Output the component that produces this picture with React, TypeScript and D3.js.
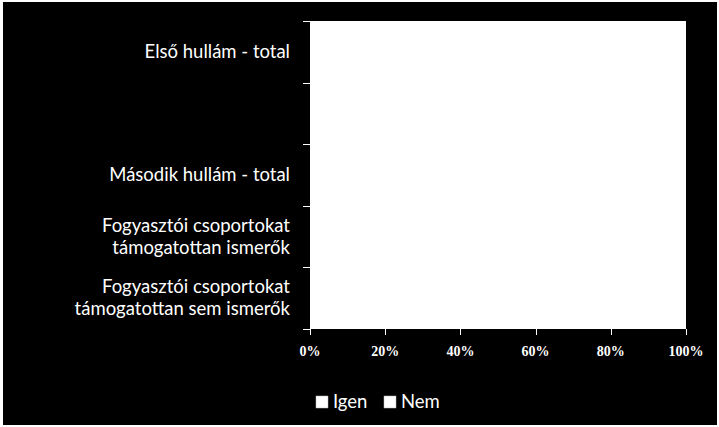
import { useEffect, useRef } from 'react';
import * as d3 from 'd3';

const categories = [
  ['Első hullám - total'],
  [''],
  ['Második hullám - total'],
  ['Fogyasztói csoportokat', 'támogatottan ismerők'],
  ['Fogyasztói csoportokat', 'támogatottan sem ismerők'],
];
const seriesNames = ['Igen', 'Nem'];
const igenValues = [0.62, 0, 0.58, 0.71, 0.44];
const nemValues = [0.38, 0, 0.42, 0.29, 0.56];
const xTicks = [0, 0.2, 0.4, 0.6, 0.8, 1];

export default function App() {
  const ref = useRef<SVGSVGElement | null>(null);

  useEffect(() => {
    document.body.style.margin = '0';
    if (!ref.current) return;
    const svg = d3.select(ref.current);
    svg.selectAll('*').remove();

    const width = 719;
    const height = 427;
    const left = 310;
    const right = 686;
    const top = 21;
    const bottom = 329;
    const labelFont = 'Lato, "Open Sans", sans-serif';

    // outer frame
    svg.append('rect').attr('width', width).attr('height', height).attr('fill', '#fff');
    svg.append('rect').attr('x', 3).attr('y', 2).attr('width', 714).attr('height', 423).attr('fill', '#000');

    const x = d3.scaleLinear().domain([0, 1]).range([left, right]);
    const y = d3
      .scaleBand<number>()
      .domain(categories.map((_, i) => i))
      .range([top, bottom]);

    svg
      .append('rect')
      .attr('x', left)
      .attr('y', top)
      .attr('width', right - left)
      .attr('height', bottom - top)
      .attr('fill', '#fff');

    // white bars on the white plot area, as in the original
    const stacked = d3
      .stack<number>()
      .keys(['0', '1'])
      .value((i, key) => (key === '0' ? igenValues[i] : nemValues[i]))(categories.map((_, i) => i));

    stacked.forEach((layer) => {
      svg
        .append('g')
        .selectAll('rect')
        .data(layer)
        .join('rect')
        .attr('x', (d) => x(d[0]))
        .attr('y', (d) => (y(d.data) ?? 0) + y.bandwidth() * 0.25)
        .attr('width', (d) => x(d[1]) - x(d[0]))
        .attr('height', y.bandwidth() * 0.5)
        .attr('fill', '#fff');
    });

    // y axis ticks
    const yTickPos = [...categories.map((_, i) => y(i) ?? 0), bottom];
    svg
      .append('g')
      .selectAll('line')
      .data(yTickPos)
      .join('line')
      .attr('x1', left - 7)
      .attr('x2', left)
      .attr('y1', (d) => Math.round(d) + 0.5)
      .attr('y2', (d) => Math.round(d) + 0.5)
      .attr('stroke', '#fff');

    // category labels
    const labels = svg
      .append('g')
      .attr('font-family', labelFont)
      .attr('font-size', 18.5)
      .attr('fill', '#fff')
      .attr('text-anchor', 'end');
    categories.forEach((lines, i) => {
      const cy = (y(i) ?? 0) + y.bandwidth() / 2;
      lines.forEach((line, j) => {
        labels
          .append('text')
          .attr('x', 290)
          .attr('y', cy + (j - (lines.length - 1) / 2) * 22 + 6)
          .text(line);
      });
    });

    // x axis
    svg
      .append('g')
      .selectAll('line')
      .data(xTicks)
      .join('line')
      .attr('x1', (d) => Math.round(x(d)) + 0.5)
      .attr('x2', (d) => Math.round(x(d)) + 0.5)
      .attr('y1', bottom)
      .attr('y2', bottom + 6)
      .attr('stroke', '#fff');

    svg
      .append('g')
      .attr('font-family', '"Liberation Serif", serif')
      .attr('font-weight', 'bold')
      .attr('font-size', 14)
      .attr('fill', '#fff')
      .attr('text-anchor', 'middle')
      .selectAll('text')
      .data(xTicks)
      .join('text')
      .attr('x', (d) => x(d))
      .attr('y', 356)
      .text((d) => d3.format('.0%')(d));

    // legend
    const legendX = [316, 384];
    const legend = svg.append('g').attr('font-family', labelFont).attr('font-size', 18.5).attr('fill', '#fff');
    seriesNames.forEach((name, i) => {
      legend
        .append('rect')
        .attr('x', legendX[i])
        .attr('y', 396)
        .attr('width', 12)
        .attr('height', 12)
        .attr('fill', '#fff')
        .attr('stroke', '#bbb')
        .attr('stroke-width', 0.5);
      legend
        .append('text')
        .attr('x', legendX[i] + 17)
        .attr('y', 408)
        .text(name);
    });
  }, []);

  return <svg ref={ref} width={719} height={427} style={{ display: 'block' }} />;
}
